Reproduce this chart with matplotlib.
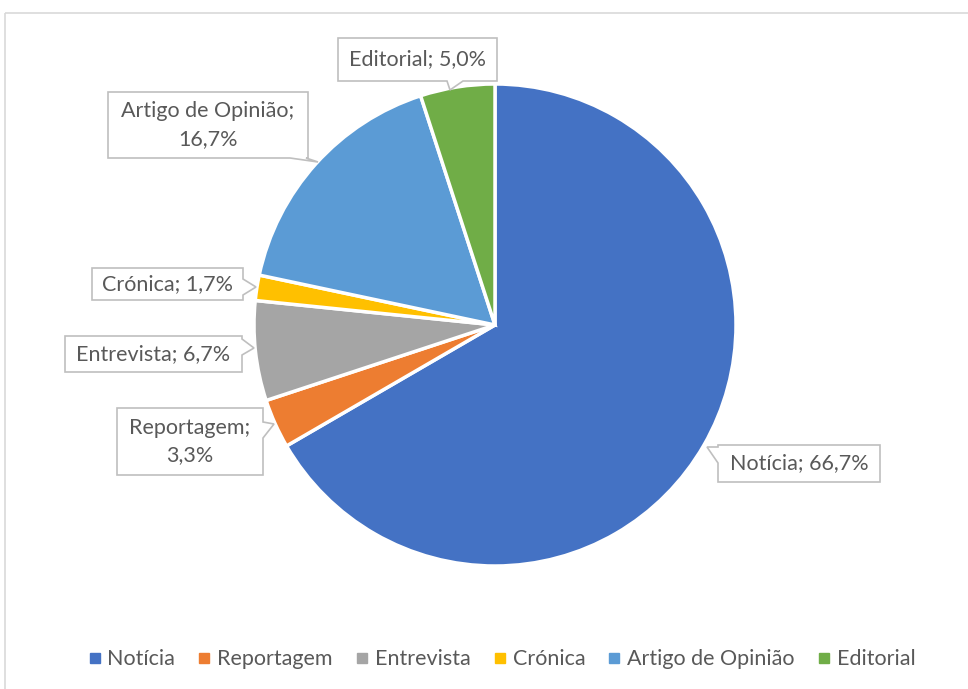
import matplotlib.pyplot as plt
from matplotlib.patches import Polygon, Rectangle
from matplotlib.lines import Line2D

# dados
categorias = ["Notícia", "Reportagem", "Entrevista", "Crónica", "Artigo de Opinião", "Editorial"]
valores = [66.7, 3.3, 6.7, 1.7, 16.7, 5.0]
cores = ["#4472C4", "#ED7D31", "#A5A5A5", "#FFC000", "#5B9BD5", "#70AD47"]

plt.rcParams['font.family'] = ['Lato', 'DejaVu Sans']
cor_texto = "#595959"
cor_caixa = "#BFBFBF"

fig = plt.figure(figsize=(9.68, 6.89), dpi=100)
ax = fig.add_axes([0, 0, 1, 1])

# moldura do gráfico
ax.add_patch(Rectangle((5, 13), 970, 690, fill=False, edgecolor="#D9D9D9", lw=1.2))

#eixo y invertido: começa no topo (270) e segue no sentido anti-horário dos dados = horário na tela
ax.pie(valores, colors=cores, startangle=270, counterclock=True, center=(495, 325),
       radius=241, wedgeprops=dict(edgecolor="white", linewidth=2.5), frame=True)
ax.set_xlim(0, 968)
ax.set_ylim(689, 0)
ax.axis("off")


def callout(x0, y0, x1, y1, lado, p, ponta, largura=16):
    #desenha a caixa com o bico apontando para a fatia
    if lado == "baixo":
        pts = [(x0, y0), (x1, y0), (x1, y1), (p + largura / 2, y1), ponta, (p - largura / 2, y1), (x0, y1)]
    elif lado == "direita":
        pts = [(x0, y0), (x1, y0), (x1, p - largura / 2), ponta, (x1, p + largura / 2), (x1, y1), (x0, y1)]
    else:
        pts = [(x0, y0), (x1, y0), (x1, y1), (x0, y1), (x0, p + largura / 2), ponta, (x0, p - largura / 2)]
    ax.add_patch(Polygon(pts, closed=True, facecolor="white", edgecolor=cor_caixa, lw=1.2, zorder=5))


rotulos = [
    # texto, caixa, lado, posição do bico, ponta
    ("Notícia; 66,7%", (718, 445, 880, 482), "esquerda", 455, (707, 447)),
    ("Reportagem;\n3,3%", (117, 408, 263, 475), "direita", 430, (274, 424)),
    ("Entrevista; 6,7%", (65, 336, 242, 372), "direita", 347, (254, 348)),
    ("Crónica; 1,7%", (92, 268, 243, 300), "direita", 287, (256, 287)),
    ("Artigo de Opinião;\n16,7%", (108, 92, 308, 158), "baixo", 298, (318, 162)),
    ("Editorial; 5,0%", (338, 38, 497, 81), "baixo", 455, (450, 90)),
]
for texto, (x0, y0, x1, y1), lado, p, ponta in rotulos:
    callout(x0, y0, x1, y1, lado, p, ponta)
    ax.text((x0 + x1) / 2, (y0 + y1) / 2, texto, ha="center", va="center", fontsize=15.5,
            color=cor_texto, linespacing=1.45, zorder=6)

# legenda
handles = [Line2D([], [], marker="s", linestyle="none", markersize=7, color=c) for c in cores]
fig.legend(handles, categorias, loc="center", bbox_to_anchor=(0.516, 0.043), ncol=6, frameon=False,
           fontsize=15.5, labelcolor=cor_texto, handletextpad=0.1, columnspacing=0.85, handlelength=1.0)

fig.savefig("out.png", dpi=100)
